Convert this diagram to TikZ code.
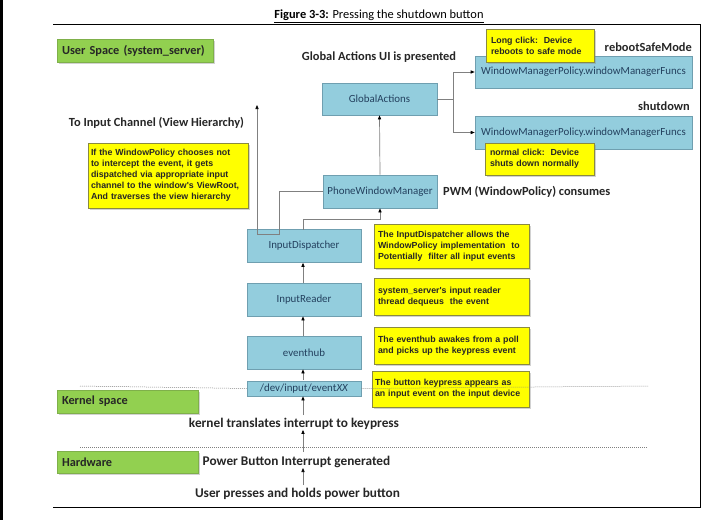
\documentclass[tikz,border=0pt]{standalone}
\usepackage{fontspec}
\setmainfont{Carlito}
\newfontfamily\notefont{Liberation Sans}
\usetikzlibrary{arrows.meta,shadows,calc}
\definecolor{grn}{HTML}{92D050}
\definecolor{grnb}{HTML}{7FB04A}
\definecolor{blu}{HTML}{93CDDD}
\definecolor{blub}{HTML}{6F9FB0}
\definecolor{blutxt}{HTML}{23405E}
\definecolor{yel}{HTML}{FFFF00}
\definecolor{yelb}{HTML}{8A8A40}
\definecolor{conn}{HTML}{808080}
\tikzset{
  shd/.style={drop shadow={opacity=0.35,shadow xshift=1.5pt,shadow yshift=-1.5pt}},
  greenbox/.style={shd,fill=grn,draw=grnb,line width=0.5pt,inner sep=0pt,anchor=center,
    font=\bfseries\fontsize{12.3}{14}\selectfont,text=black!85,align=left},
  bluebox/.style={fill=blu,draw=blub,line width=0.7pt,inner sep=0pt,anchor=center,
    font=\fontsize{10.9}{12}\selectfont,text=blutxt},
  notebox/.style={shd,fill=yel,draw=yelb,line width=0.6pt,inner sep=0pt,anchor=center,
    font=\notefont\bfseries\fontsize{8.8}{11}\selectfont,text=black!85,align=left},
  lbl/.style={font=\bfseries\fontsize{12.4}{14}\selectfont,text=black!85,inner sep=0pt},
  lblb/.style={font=\bfseries\fontsize{13.3}{15}\selectfont,text=black!85,inner sep=0pt},
  conline/.style={draw=conn,line width=0.7pt},
  arr/.style={conline,-{Triangle[length=4pt,width=3.2pt,fill=black,color=black]}},
  dots/.style={draw=gray,line width=0.5pt,dash pattern=on 1pt off 1pt}
}
\begin{document}
\begin{tikzpicture}[x=1pt,y=-1pt]
\useasboundingbox (0,0) rectangle (720,520);
\fill[white] (0,0) rectangle (720,520);
\fill[black] (0,0) rectangle (3,520);
% frame
\draw[line width=0.8pt] (53,24) -- (700,24) -- (700,507) -- (53,507);
\node[inner sep=0pt,font=\fontsize{12.4}{14}\selectfont] (title) at (379,16)
  {\underline{\textbf{Figure 3-3:} Pressing the shutdown button}};

% green labels
\node[greenbox,minimum width=156pt,minimum height=23pt,text width=146pt] (usr) at (135,50.5) {User Space (system\_server)};
\node[greenbox,minimum width=141pt,minimum height=23pt,text width=131pt] (krn) at (127.5,401.5) {Kernel space};
\node[greenbox,minimum width=141pt,minimum height=22pt,text width=131pt] (hw) at (127.5,462) {Hardware};

% blue boxes
\node[bluebox,minimum width=115pt,minimum height=32pt] (ga) at (379.5,99) {GlobalActions};
\node[bluebox,minimum width=217pt,minimum height=32pt] (wmp1) at (583.5,72) {WindowManagerPolicy.windowManagerFuncs};
\node[bluebox,minimum width=217pt,minimum height=33pt] (wmp2) at (583.5,132.5) {WindowManagerPolicy.windowManagerFuncs};
\node[bluebox,minimum width=114pt,minimum height=33pt] (pwm) at (380,191.5) {PhoneWindowManager};
\node[bluebox,minimum width=114pt,minimum height=33pt] (id) at (304,246) {InputDispatcher};
\node[bluebox,minimum width=114pt,minimum height=33pt] (ir) at (304,299.5) {InputReader};
\node[bluebox,minimum width=114pt,minimum height=33pt] (eh) at (304,352.5) {eventhub};
\node[bluebox,minimum width=114pt,minimum height=15pt] (dev) at (304,388.5) {/dev/input/event\textit{XX}};

% dotted separators
\draw[dots] (80,386) -- (dev.west);
\draw[dots] (80,447) -- (648,447);

% yellow notes
\node[notebox,minimum width=108pt,minimum height=33pt,text width=98pt] (nlong) at (540,45.5) {Long click:\ \ Device\\reboots to safe mode};
\node[notebox,minimum width=109pt,minimum height=32pt,text width=99pt] (nnorm) at (539.5,159) {normal click:\ \ Device\\shuts down normally};
\node[notebox,minimum width=160pt,minimum height=65pt,text width=154pt] (nif) at (168,175.5) {If the WindowPolicy chooses not\\to intercept the event, it gets\\dispatched via appropriate input\\channel to the window's ViewRoot,\\And traverses the view hierarchy};
\node[notebox,minimum width=155pt,minimum height=44pt,text width=147pt] (nid) at (451.5,246) {The InputDispatcher allows the\\WindowPolicy implementation\ \ to\\Potentially\ \ filter all input events};
\node[notebox,minimum width=155pt,minimum height=37pt,text width=147pt] (nir) at (451.5,296.5) {system\_server's input reader\\thread dequeus\ \ the event};
\node[notebox,minimum width=155pt,minimum height=37pt,text width=147pt] (neh) at (451.5,345.5) {The eventhub awakes from a poll\\and picks up the keypress event};
\node[notebox,minimum width=157pt,minimum height=36pt,text width=151pt] (ndev) at (450.5,389) {The button keypress appears as\\an input event on the input device};
\draw[dots] (dev.east) -- (648,386);

% text labels
\node[lbl] (gaui) at (379,57) {Global Actions UI is presented};
\node[lbl,anchor=east] (rsm) at (692,47) {rebootSafeMode};
\node[lbl,anchor=east] (sd) at (690,106) {shutdown};
\node[lbl] (toin) at (156.5,123) {To Input Channel (View Hierarchy)};
\node[lbl,anchor=west] (pwmc) at (443,192) {PWM (WindowPolicy) consumes};
\node[lblb] (ktr) at (294,424) {kernel translates interrupt to keypress};
\node[lblb] (pbi) at (296.5,462) {Power Button Interrupt generated};
\node[lblb] (usrp) at (297.5,494) {User presses and holds power button};

% connectors
\coordinate (split) at (453,99);
\draw[conline] (ga.east) -- (split);
\draw[arr] (split) |- (wmp1.west);
\draw[arr] (split) |- (wmp2.west);
\draw[arr] (pwm.north) -- (ga.south);
\coordinate (chan) at (257,105);
\draw[arr] (pwm.west) -- (279,191.5) -- (279,234) -- (257,234) -- (chan);
\draw[arr] (303,229.5) -- (303,219) -- (380,219) -- (pwm.south);
\draw[arr] (ir.north -| 303,0) -- (id.south -| 303,0);
\draw[arr] (eh.north -| 303,0) -- (ir.south -| 303,0);
\draw[arr] (dev.north -| 303,0) ++(0,-0.5) -- (eh.south -| 303,0);
\draw[arr] (ktr.north -| 303,0) ++(0,-3) -- (dev.south -| 303,0);
\draw[arr] (pbi.north -| 303,0) ++(0,-4) -- (ktr.south -| 303,0);
\draw[arr] (usrp.north -| 303,0) ++(0,-3) -- (pbi.south -| 303,0);
\end{tikzpicture}
\end{document}
